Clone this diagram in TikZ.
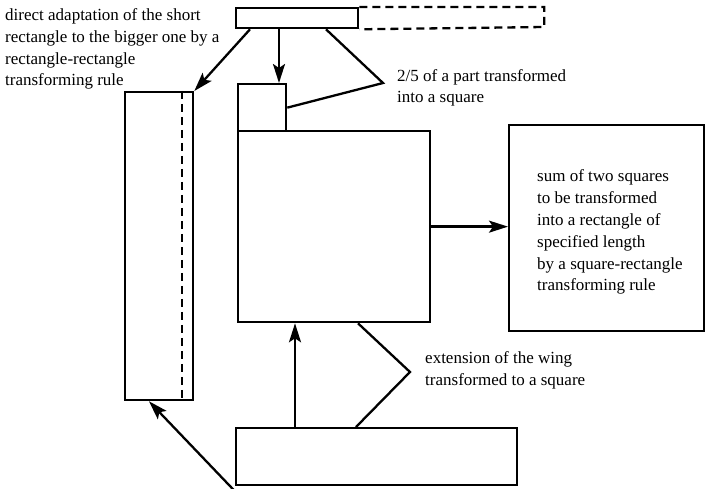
\documentclass[tikz,border=0pt]{standalone}
\usepackage{fontspec}
\setmainfont{Liberation Serif}
\usetikzlibrary{arrows.meta,calc}
\begin{document}
\begin{tikzpicture}[x=1pt,y=-1pt,
  box/.style={draw, line width=2.3pt, inner sep=0pt, anchor=north west},
  arr/.style={line width=2.3pt, -{Stealth[length=19pt,width=12pt,inset=4pt]}},
  ln/.style={line width=2.3pt},
  dsh/.style={line width=2.3pt, dash pattern=on 8pt off 5pt},
  lbl/.style={font=\fontsize{17}{21.8}\selectfont, align=left, anchor=base west, inner sep=0pt}]
\useasboundingbox (0,0) rectangle (705,489);
% boxes
\node[box, minimum width=122pt, minimum height=20pt] (top) at (235,7) {};
\node[box, minimum width=68pt, minimum height=308pt] (tall) at (124,91) {};
\node[box, minimum width=48pt, minimum height=47pt] (small) at (237,83) {};
\node[box, minimum width=192pt, minimum height=191pt] (big) at (237,130) {};
\node[box, minimum width=281pt, minimum height=57pt] (bottom) at (235,427) {};
\node[box, minimum width=195pt, minimum height=206pt] (right) at (508,124) {};
% dashed extensions
\draw[dsh] (top.north east) -- ++(185,0) -- ++(0,20) -- (top.south east);
\draw[dsh] ([xshift=-12pt]tall.north east) -- ([xshift=-12pt]tall.south east);
% connectors
\draw[arr] ([xshift=15pt]top.south west) -- (tall.north east);
\draw[arr] ([xshift=44pt]top.south west) -- ([xshift=44pt]top.south west |- small.north);
\coordinate (v1) at (383,83);
\draw[ln] ([xshift=91pt]top.south west) -- (v1) -- (small.east);
\draw[arr] (big.east) -- (right.west |- big.east);
\draw[arr] ([xshift=60pt]bottom.north west) -- ([xshift=60pt]bottom.north west |- big.south);
\coordinate (v2) at (410,372);
\draw[ln] ([xshift=121pt]big.south west) -- (v2) -- ([xshift=121pt]bottom.north west);
\draw[arr] ([yshift=-5pt]bottom.south west) -- ([xshift=25pt]tall.south west);
% labels
\node[lbl] (t1) at (5,86) {direct adaptation of the short\\rectangle to the bigger one by a\\rectangle-rectangle\\transforming rule};
\node[lbl] (t2) at (397,103) {2/5 of a part transformed\\into a square};
\node[lbl] (t3) at (537,291) {sum of two squares\\to be transformed\\into a rectangle of\\specified length\\by a square-rectangle\\transforming rule};
\node[lbl] (t4) at (425,385) {extension of the wing\\transformed to a square};
\end{tikzpicture}
\end{document}
